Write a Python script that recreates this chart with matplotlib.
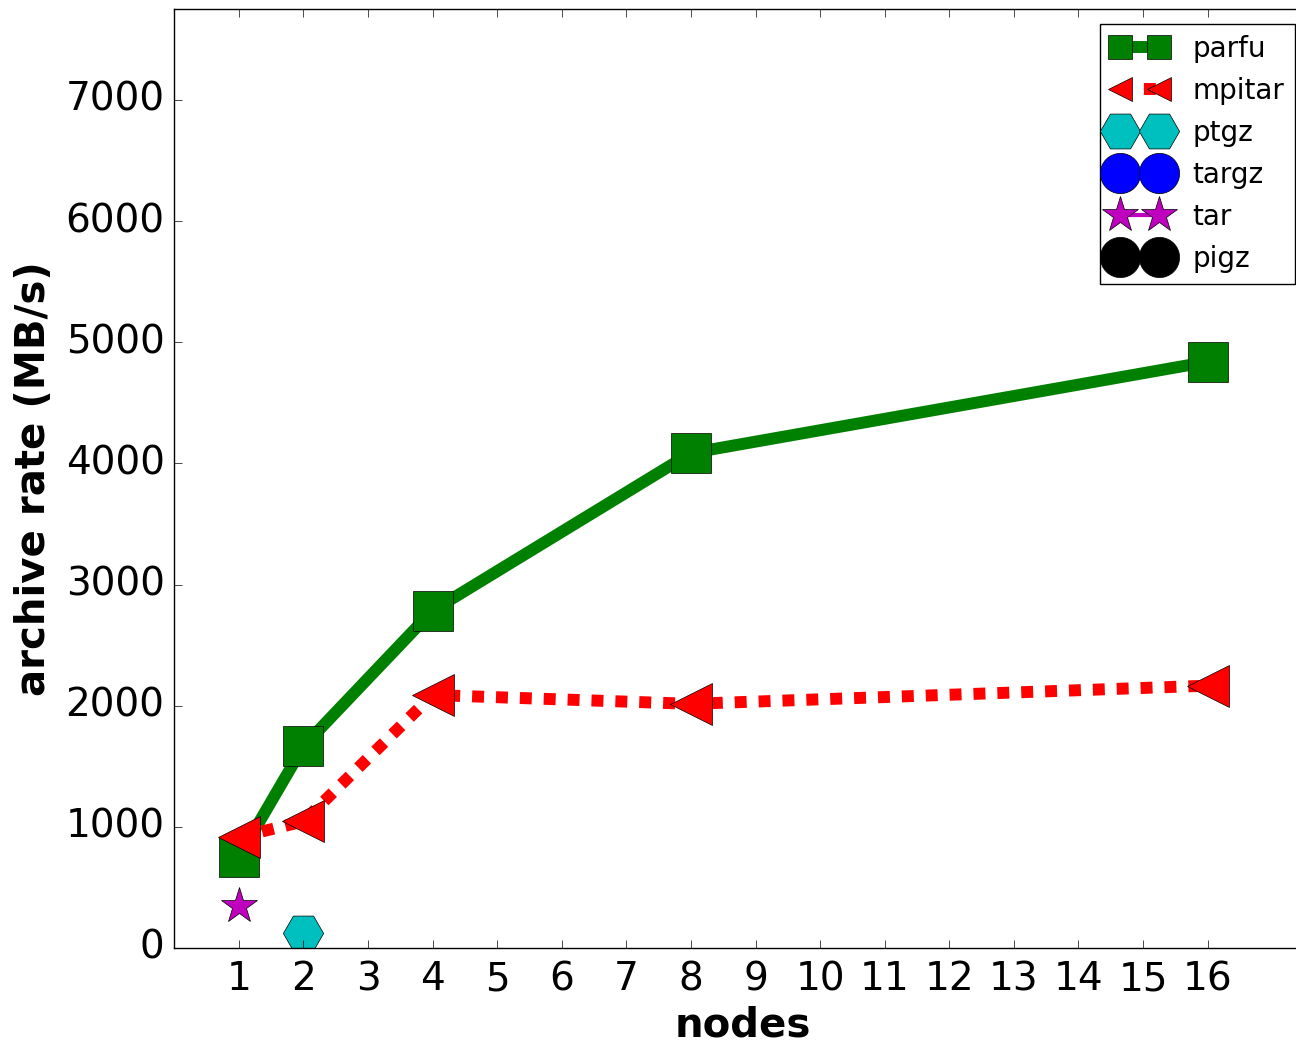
import matplotlib
matplotlib.use('Agg')
import matplotlib.pyplot as plt
from matplotlib.lines import Line2D

plt.style.use('classic')

# ----------
# Data (archive rate in MB/s vs node count)
# ----------
x_ticks = list(range(1, 17))

parfu_nodes = [1, 2, 4, 8, 16]
parfu_rate = [752, 1665, 2785, 4085, 4838]

mpitar_nodes = [1, 2, 4, 8, 16]
mpitar_rate = [915, 1045, 2088, 2015, 2165]

ptgz_nodes = [2]
ptgz_rate = [125]

targz_nodes = []
targz_rate = []

tar_nodes = [1]
tar_rate = [350]

pigz_nodes = []
pigz_rate = []

DOTTED = (0, (8.6, 8.6))

fig = plt.figure(figsize=(12.96, 10.46), dpi=100, facecolor='white')
ax = fig.add_axes([0.1345, 0.0937, 0.877, 0.8977])

ax.plot(parfu_nodes, parfu_rate, color='g', ls='-', lw=8.6, marker='s', ms=29, label='parfu')
ax.plot(mpitar_nodes, mpitar_rate, color='r', ls=DOTTED, lw=8.6, dash_capstyle='butt',
        marker='<', ms=30, label='mpitar')
ax.plot(ptgz_nodes, ptgz_rate, color='c', ls='-', lw=1, marker='H', ms=29, label='ptgz')
ax.plot(targz_nodes, targz_rate, color='b', ls='-', lw=1, marker='o', ms=29, label='targz')
ax.plot(tar_nodes, tar_rate, color='m', ls='-', lw=3, marker='*', ms=27, label='tar')
ax.plot(pigz_nodes, pigz_rate, color='k', ls='-', lw=1, marker='o', ms=29, label='pigz')

ax.set_xlim(0, 17.6)
ax.set_ylim(0, 7750)
ax.set_xticks(x_ticks)
ax.set_yticks(range(0, 8000, 1000))
ax.tick_params(labelsize=28, length=6)
ax.tick_params(axis='x', pad=9)
ax.tick_params(axis='y', pad=7)
ax.set_xlabel('nodes', fontsize=29, fontweight='bold', labelpad=5)
ax.set_ylabel('archive rate (MB/s)', fontsize=29, fontweight='bold', labelpad=8)

# legend handles (parfu / mpitar markers are drawn smaller there)
handles = [
    Line2D([], [], color='g', ls='-', lw=8.6, marker='s', ms=17),
    Line2D([], [], color='r', ls=DOTTED, lw=8.6, dash_capstyle='butt', marker='<', ms=17),
    Line2D([], [], color='c', ls='-', lw=1, marker='H', ms=29),
    Line2D([], [], color='b', ls='-', lw=1, marker='o', ms=29),
    Line2D([], [], color='m', ls='-', lw=3, marker='*', ms=27),
    Line2D([], [], color='k', ls='-', lw=1, marker='o', ms=29),
]
labels = ['parfu', 'mpitar', 'ptgz', 'targz', 'tar', 'pigz']
ax.legend(handles, labels, loc='upper right', bbox_to_anchor=(0.986, 0.984),
          borderaxespad=0, numpoints=2, fontsize=20, handlelength=2.0,
          labelspacing=0.5, borderpad=0.4, handletextpad=0.9)

fig.savefig('out.png', dpi=100, facecolor='white')
